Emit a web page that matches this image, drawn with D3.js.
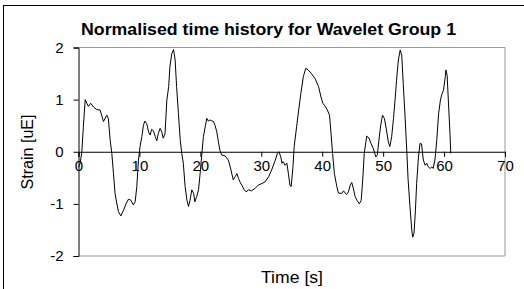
<!DOCTYPE html>
<html><head><meta charset="utf-8">
<script src="https://cdn.jsdelivr.net/npm/d3@7"></script>
<style>body{margin:0;background:#fff}svg{display:block}text{font-family:"Liberation Sans",Arial,sans-serif}</style>
</head><body>
<svg id="c" width="524" height="289"></svg>
<script>
const title = "Normalised time history for Wavelet Group 1";
const xLabel = "Time [s]";
const yLabel = "Strain [uE]";
const xTicks = [0,10,20,30,40,50,60,70];
const yTicks = [-2,-1,0,1,2];
const time = [0,0.27,0.55,0.8,1.1,1.37,1.64,2.0,2.46,3.0,3.55,4.1,4.37,4.65,4.9,5.2,5.47,5.74,6.0,6.3,6.56,6.95,7.4,7.8,8.2,8.6,9.0,9.3,9.57,9.84,10.1,10.4,10.66,10.9,11.2,11.5,11.76,12.0,12.3,12.6,12.85,13.1,13.4,13.67,13.9,14.2,14.5,14.8,15.0,15.3,15.6,15.86,16.1,16.4,16.7,16.95,17.2,17.5,17.8,18.05,18.3,18.6,18.9,19.1,19.4,19.7,19.96,20.2,20.5,20.8,21.05,21.3,21.6,21.9,22.15,22.4,22.7,22.97,23.2,23.5,24.06,24.6,24.9,25.4,25.7,26.0,26.25,26.5,26.8,27.2,27.5,27.9,28.4,29.0,29.5,30.1,30.6,31.2,31.7,32.3,32.65,32.9,33.2,33.4,33.6,33.9,34.2,34.45,34.7,34.9,35.2,35.4,35.8,36.2,36.5,36.9,37.3,37.7,38.3,38.8,39.4,39.8,40.1,40.5,40.85,41.2,41.45,41.7,42.0,42.4,42.65,43.2,43.5,43.75,44.0,44.3,44.6,44.85,45.1,45.4,45.7,46.1,46.4,46.65,46.9,47.3,47.7,48.0,48.4,48.8,49.05,49.3,49.6,49.9,50.2,50.5,50.85,51.1,51.4,51.7,51.95,52.2,52.5,52.8,53.05,53.3,53.6,53.9,54.1,54.4,54.7,54.85,55.07,55.3,55.5,55.8,56.05,56.3,56.6,56.9,57.15,57.4,57.7,58.0,58.2,58.5,58.8,59.1,59.4,59.6,59.9,60.2,60.3,60.5,60.7,60.97,61.1];
const strain = [-0.3,-0.22,0,0.48,1.0,0.93,0.87,0.93,0.86,0.81,0.8,0.58,0.64,0.7,0.64,0.22,-0.03,-0.42,-0.8,-1.0,-1.15,-1.23,-1.12,-1.0,-0.91,-0.93,-1.02,-0.96,-0.67,-0.16,0.1,0.29,0.51,0.59,0.54,0.38,0.32,0.43,0.4,0.29,0.21,0.35,0.45,0.38,0.26,0.35,0.99,1.25,1.63,1.88,1.96,1.76,1.25,0.73,0.22,-0.03,-0.22,-0.67,-0.93,-1.05,-0.93,-0.73,-0.8,-0.96,-0.86,-0.73,-0.42,-0.1,0.29,0.48,0.64,0.59,0.61,0.59,0.58,0.51,0.38,0.19,0.03,-0.06,-0.08,-0.16,-0.29,-0.54,-0.48,-0.42,-0.51,-0.58,-0.64,-0.73,-0.77,-0.73,-0.75,-0.7,-0.64,-0.61,-0.58,-0.48,-0.35,-0.16,-0.03,0.0,-0.1,-0.22,-0.19,-0.26,-0.22,-0.42,-0.64,-0.67,-0.29,0.1,0.48,0.86,1.12,1.44,1.6,1.57,1.49,1.41,1.25,1.05,0.93,0.87,0.8,0.7,0.35,-0.03,-0.42,-0.67,-0.79,-0.8,-0.75,-0.79,-0.82,-0.77,-0.64,-0.59,-0.7,-0.86,-0.93,-1.0,-0.93,-0.54,-0.03,0.3,0.26,0.16,0.06,-0.1,-0.06,0.22,0.51,0.7,0.64,0.45,0.19,0.1,0.29,0.64,0.99,1.37,1.76,1.95,1.85,1.31,0.67,-0.03,-0.54,-1.05,-1.5,-1.64,-1.56,-1.12,-0.61,-0.1,0.16,0.15,-0.16,-0.26,-0.22,-0.29,-0.32,-0.29,-0.32,-0.16,0.22,0.73,0.99,1.09,1.18,1.44,1.57,1.47,0.99,0.35,-0.03];

const svg = d3.select("#c");
const L = 78.5, R = 505, T = 47.5, B = 256;
const x = d3.scaleLinear().domain([0,70]).range([L,R]);
const y = d3.scaleLinear().domain([-2,2]).range([B,T]);
const fmt = d => String(d);

// outer frame
svg.append("rect").attr("x",3.5).attr("y",5.5).attr("width",600).attr("height",400)
  .attr("fill","none").attr("stroke","#000");

// plot frame (grey top/right/bottom)
svg.append("path").attr("d",`M${L},${T}H${R}V${B}H${L}`).attr("fill","none").attr("stroke","#999");

// y axis
const ya = svg.append("g").attr("transform",`translate(${L},0)`)
  .call(d3.axisLeft(y).tickValues(yTicks).tickSize(5).tickPadding(10).tickFormat(fmt));
ya.select(".domain").attr("stroke","#000");
ya.selectAll("text").attr("font-size",15).attr("fill","#000").attr("font-family","Liberation Sans, Arial, sans-serif");

// x axis at y=0
const xa = svg.append("g").attr("transform",`translate(0,${y(0)})`)
  .call(d3.axisBottom(x).tickValues(xTicks).tickSize(5).tickPadding(4).tickFormat(fmt));
xa.select(".domain").attr("stroke","#000");
xa.selectAll("text").attr("font-size",15).attr("fill","#000").attr("font-family","Liberation Sans, Arial, sans-serif");

// line
const line = d3.line().x((d,i)=>x(time[i])).y(d=>y(d));
svg.append("path").attr("d",line(strain)).attr("fill","none").attr("stroke","#000").attr("stroke-width",1);

// title
svg.append("text").attr("x",268.5).attr("y",34.5).attr("text-anchor","middle")
  .attr("font-weight","bold").attr("font-size",16.5)
  .attr("textLength",375).attr("lengthAdjust","spacingAndGlyphs").text(title);
svg.append("text").attr("x",292).attr("y",282.5).attr("text-anchor","middle")
  .attr("font-size",16.5).attr("textLength",62).attr("lengthAdjust","spacingAndGlyphs").text(xLabel);
svg.append("text").attr("transform","translate(33,152) rotate(-90)").attr("text-anchor","middle")
  .attr("font-size",16).attr("textLength",75).attr("lengthAdjust","spacingAndGlyphs").text(yLabel);
</script>
</body></html>
